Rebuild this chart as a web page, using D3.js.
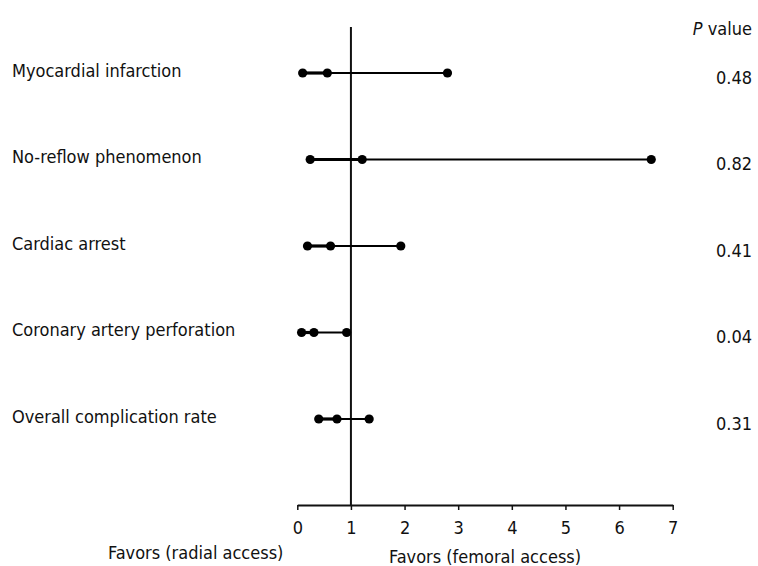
<!DOCTYPE html>
<html><head><meta charset="utf-8">
<script src="https://cdn.jsdelivr.net/npm/d3@7/dist/d3.min.js"></script>
<style>
body{margin:0;background:#fff;}
text{font-family:"DejaVu Sans Condensed","Liberation Sans Narrow",sans-serif;fill:#111;}
</style></head>
<body>
<svg id="c" width="758" height="566"></svg>
<script>
const categories = ["Myocardial infarction","No-reflow phenomenon","Cardiac arrest","Coronary artery perforation","Overall complication rate"];
const lower = [0.10, 0.24, 0.19, 0.08, 0.40];
const estimate = [0.56, 1.21, 0.62, 0.31, 0.74];
const upper = [2.80, 6.60, 1.93, 0.92, 1.34];
const pValues = ["0.48","0.82","0.41","0.04","0.31"];
const xTicks = [0,1,2,3,4,5,6,7];

const svg = d3.select("#c");
const x = d3.scaleLinear().domain([0,7]).range([297.3,672.7]);
const y = d3.scalePoint().domain(categories).range([73,419]);
const axisY = 505;
const fs = 18;

// reference line at 1
svg.append("line").attr("x1",x(1)).attr("x2",x(1)).attr("y1",27).attr("y2",axisY)
  .attr("stroke","#111").attr("stroke-width",2);

// axis
const ax = svg.append("g").attr("transform",`translate(0,${axisY})`)
  .call(d3.axisBottom(x).tickValues(xTicks).tickFormat(d3.format("d")).tickSize(5).tickSizeOuter(0));
ax.select(".domain").attr("stroke","#111").attr("stroke-width",2);
ax.selectAll(".tick line").attr("stroke","#111").attr("stroke-width",1.5);
ax.selectAll(".tick text").attr("font-size",fs).attr("y",23).attr("dy","0.32em")
  .style("font-family",'"DejaVu Sans Condensed","Liberation Sans Narrow",sans-serif').attr("fill","#111");

const rows = categories.map((c,i)=>({c,lo:lower[i],est:estimate[i],hi:upper[i],p:pValues[i]}));
const g = svg.append("g");
rows.forEach(r=>{
  const yy = y(r.c);
  g.append("line").attr("x1",x(r.lo)).attr("x2",x(r.est)).attr("y1",yy).attr("y2",yy)
    .attr("stroke","#000").attr("stroke-width",3.2);
  g.append("line").attr("x1",x(r.est)).attr("x2",x(r.hi)).attr("y1",yy).attr("y2",yy)
    .attr("stroke","#000").attr("stroke-width",2);
  [r.lo,r.est,r.hi].forEach(v=>g.append("circle").attr("cx",x(v)).attr("cy",yy).attr("r",4.6).attr("fill","#000"));
  svg.append("text").attr("x",12).attr("y",yy-2).attr("dy","0.32em").attr("font-size",fs).text(r.c);
  svg.append("text").attr("x",752).attr("y",yy+5).attr("dy","0.32em").attr("text-anchor","end").attr("font-size",fs).text(r.p);
});

const hdr = svg.append("text").attr("x",752).attr("y",35).attr("text-anchor","end").attr("font-size",fs);
hdr.append("tspan").attr("font-style","italic").text("P");
hdr.append("tspan").text(" value");

svg.append("text").attr("x",108).attr("y",559).attr("font-size",fs).text("Favors (radial access)");
svg.append("text").attr("x",389).attr("y",563).attr("font-size",fs).text("Favors (femoral access)");
</script>
</body></html>
